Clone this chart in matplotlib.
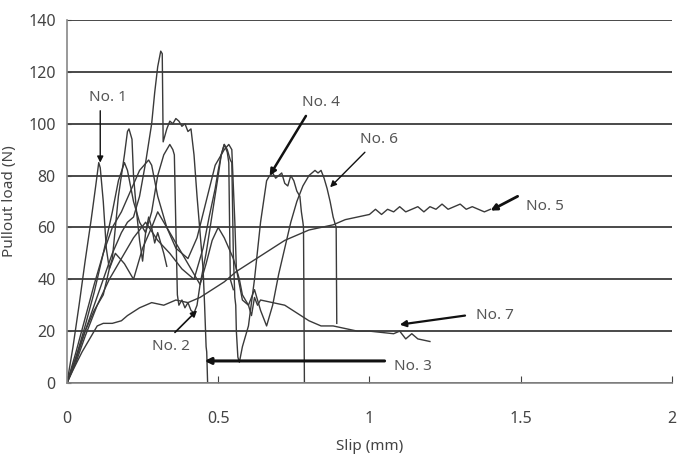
import matplotlib
matplotlib.use("Agg")
import matplotlib.pyplot as plt

plt.rcParams['font.family'] = ['Noto Sans', 'DejaVu Sans']

# pullout test curves (slip mm, load N)
x1 = [0, 0.02, 0.04, 0.06, 0.08, 0.095, 0.105, 0.11, 0.12, 0.13, 0.14, 0.15, 0.16, 0.17,
      0.18, 0.19, 0.2, 0.205, 0.215, 0.22, 0.23, 0.24, 0.25, 0.26, 0.27, 0.28, 0.29, 0.3, 0.32, 0.33]
y1 = [0, 14, 30, 47, 63, 76, 85, 83, 70, 52, 44, 48, 60, 72,
      80, 88, 97, 98, 94, 80, 66, 55, 47, 58, 64, 60, 54, 58, 50, 45]

x2 = [0, 0.03, 0.06, 0.09, 0.12, 0.15, 0.17, 0.19, 0.2, 0.22, 0.24, 0.26, 0.28, 0.3, 0.32,
      0.34, 0.35, 0.355, 0.36, 0.365, 0.37, 0.38, 0.39, 0.4, 0.41, 0.42, 0.43, 0.44, 0.46,
      0.48, 0.5, 0.51, 0.52, 0.53, 0.535, 0.54, 0.55]
y2 = [0, 10, 22, 35, 50, 66, 78, 85, 82, 70, 62, 58, 66, 80, 88,
      92, 90, 88, 60, 34, 30, 32, 29, 31, 28, 27, 30, 38, 50,
      65, 80, 88, 92, 89, 85, 40, 36]

x3 = [0, 0.03, 0.06, 0.09, 0.12, 0.15, 0.18, 0.2, 0.22, 0.24, 0.26, 0.28, 0.29, 0.3, 0.31,
      0.315, 0.318, 0.33, 0.34, 0.35, 0.36, 0.37, 0.38, 0.39, 0.4, 0.41, 0.42, 0.43, 0.44,
      0.45, 0.455, 0.46, 0.462, 0.465]
y3 = [0, 9, 20, 30, 40, 50, 58, 62, 64, 72, 85, 100, 112, 122, 128,
      127, 93, 98, 101, 100, 102, 101, 99, 100, 97, 98, 88, 72, 58,
      44, 30, 14, 12, 0]

x4 = [0, 0.03, 0.06, 0.1, 0.14, 0.18, 0.22, 0.26, 0.3, 0.34, 0.38, 0.42, 0.45, 0.47, 0.49,
      0.5, 0.51, 0.52, 0.53, 0.54, 0.545, 0.55, 0.555, 0.558, 0.56, 0.565, 0.57, 0.58, 0.6,
      0.62, 0.64, 0.66, 0.67, 0.68, 0.69, 0.7, 0.71, 0.72, 0.73, 0.74, 0.75, 0.76, 0.77,
      0.775, 0.78, 0.782, 0.785]
y4 = [0, 8, 18, 30, 40, 48, 56, 62, 55, 50, 44, 40, 52, 64, 75,
      82, 88, 92, 90, 86, 85, 50, 33, 30, 20, 10, 8, 14, 22,
      40, 62, 78, 80, 81, 79, 80, 81, 77, 76, 80, 78, 74, 72,
      66, 62, 60, 0]

x5 = [0, 0.02, 0.05, 0.08, 0.1, 0.12, 0.15, 0.18, 0.2, 0.24, 0.28, 0.32, 0.36, 0.4, 0.44,
      0.48, 0.52, 0.56, 0.6, 0.64, 0.68, 0.72, 0.76, 0.8, 0.84, 0.88, 0.9, 0.92, 0.96, 1.0,
      1.02, 1.04, 1.06, 1.08, 1.1, 1.12, 1.14, 1.16, 1.18, 1.2, 1.22, 1.24, 1.26, 1.28,
      1.3, 1.32, 1.34, 1.36, 1.38, 1.4]
y5 = [0, 5, 12, 18, 22, 23, 23, 24, 26, 29, 31, 30, 32, 31, 33,
      36, 39, 43, 46, 49, 52, 55, 57, 59, 60, 61, 62, 63, 64, 65,
      67, 65, 67, 66, 68, 66, 67, 68, 66, 68, 67, 69, 67, 68,
      69, 67, 68, 67, 66, 67]

x6 = [0, 0.03, 0.06, 0.09, 0.12, 0.15, 0.18, 0.21, 0.24, 0.27, 0.28, 0.3, 0.33, 0.36, 0.4,
      0.43, 0.46, 0.49, 0.52, 0.535, 0.545, 0.555, 0.56, 0.57, 0.58, 0.6, 0.62, 0.64, 0.66,
      0.68, 0.7, 0.72, 0.74, 0.76, 0.78, 0.8, 0.82, 0.83, 0.84, 0.85, 0.86, 0.87, 0.88,
      0.89, 0.892]
y6 = [0, 12, 25, 38, 50, 60, 66, 74, 82, 86, 84, 72, 60, 52, 48,
      56, 70, 84, 90, 92, 90, 62, 44, 38, 32, 30, 36, 28, 22,
      30, 42, 52, 62, 70, 76, 80, 82, 81, 82, 79, 75, 70, 64,
      60, 23]

x7 = [0, 0.03, 0.06, 0.09, 0.12, 0.14, 0.16, 0.19, 0.22, 0.25, 0.28, 0.3, 0.32, 0.35, 0.38,
      0.4, 0.42, 0.44, 0.46, 0.48, 0.5, 0.52, 0.55, 0.57, 0.58, 0.6, 0.61, 0.62, 0.63, 0.64,
      0.68, 0.72, 0.76, 0.8, 0.84, 0.88, 0.92, 0.96, 1.0, 1.04, 1.08, 1.1, 1.12, 1.14, 1.16, 1.2]
y7 = [0, 10, 20, 28, 34, 44, 50, 46, 40, 52, 60, 66, 62, 56, 50,
      46, 42, 38, 46, 55, 60, 56, 48, 40, 34, 30, 26, 33, 30, 32,
      31, 30, 27, 24, 22, 22, 21, 20, 20, 19.5, 19, 20, 17, 19, 17, 16]

curves = [(x1, y1), (x2, y2), (x3, y3), (x4, y4), (x5, y5), (x6, y6), (x7, y7)]

# label text pos, arrow tip, arrow tail, line width
labels = ["No. 1", "No. 2", "No. 3", "No. 4", "No. 5", "No. 6", "No. 7"]
text_xy = [(0.135, 110), (0.345, 14), (1.145, 6.5), (0.84, 108), (1.58, 68), (1.03, 94), (1.415, 26)]
tail_xy = [(0.11, 105), (0.357, 19.5), (1.05, 8.5), (0.79, 103), (1.49, 72), (0.985, 89), (1.316, 26)]
tip_xy = [(0.11, 85), (0.43, 28), (0.455, 8.5), (0.67, 80), (1.40, 66.5), (0.87, 75.5), (1.10, 22.5)]
arrow_lw = [1.0, 1.2, 2.2, 1.8, 2.0, 1.0, 1.6]

fig = plt.figure(figsize=(6.82, 4.58), dpi=100)
ax = fig.add_axes([0.0982, 0.1638, 0.887, 0.7925])

for xs, ys in curves:
    ax.plot(xs, ys, color='#3a3a3a', lw=1.0)

for i in range(len(labels)):
    ax.text(text_xy[i][0], text_xy[i][1], labels[i], ha='center', va='center',
            fontsize=11, color='#555555')
    ax.annotate('', xy=tip_xy[i], xytext=tail_xy[i],
                arrowprops=dict(arrowstyle='-|>', color='#111111', lw=arrow_lw[i],
                                mutation_scale=9, shrinkA=0, shrinkB=0))

ax.set_xlim(0, 2)
ax.set_ylim(0, 140)
ax.set_xticks([0, 0.5, 1, 1.5, 2])
ax.set_xticklabels(['0', '0.5', '1', '1.5', '2'])
ax.set_yticks(range(0, 141, 20))
ax.yaxis.grid(True, color='#2a2a2a', lw=1.2)
ax.set_axisbelow(True)
ax.tick_params(axis='x', direction='in', length=5, pad=20, labelsize=11.5, colors='#444444')
ax.tick_params(axis='y', direction='in', length=3, pad=8, labelsize=11.5, colors='#444444')
for s in ['top', 'right']:
    ax.spines[s].set_visible(False)
for s in ['left', 'bottom']:
    ax.spines[s].set_color('#888888')
    ax.spines[s].set_linewidth(1.2)

ax.set_xlabel('Slip (mm)', fontsize=11, color='#444444', labelpad=9)
ax.set_ylabel('Pullout load (N)', fontsize=11, color='#444444', labelpad=8)

fig.savefig('out.png', dpi=100)
